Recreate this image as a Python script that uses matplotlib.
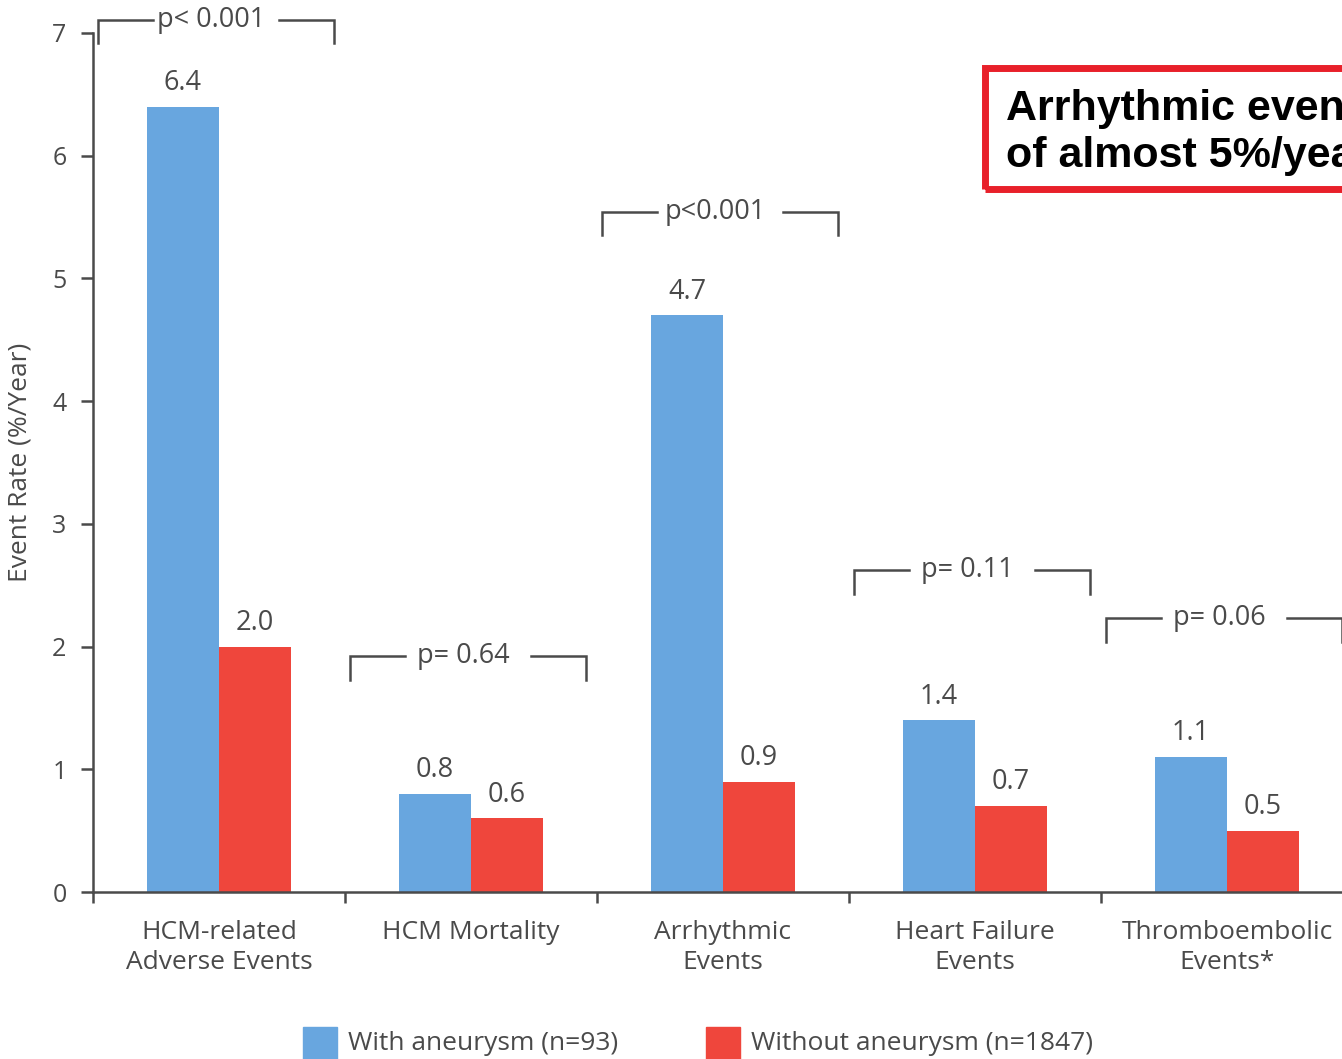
import numpy as np
import matplotlib.pyplot as plt
from matplotlib.patches import Rectangle

categories = ['HCM-related\nAdverse Events', 'HCM Mortality', 'Arrhythmic\nEvents',
              'Heart Failure\nEvents', 'Thromboembolic\nEvents*']
with_aneurysm = [6.4, 0.8, 4.7, 1.4, 1.1]
without_aneurysm = [2.0, 0.6, 0.9, 0.7, 0.5]
p_labels = ['p< 0.001', 'p= 0.64', 'p<0.001', 'p= 0.11', 'p= 0.06']
p_heights = [7.11, 1.92, 5.54, 2.62, 2.23]
legend_labels = ['With aneurysm (n=93)', 'Without aneurysm (n=1847)']
callout_lines = ['Arrhythmic events', 'of almost 5%/year']

blue = '#68a6df'
red = '#ef463c'
grey = '#4a4a4a'

plt.rcParams['font.family'] = ['Open Sans', 'DejaVu Sans']

fig = plt.figure(figsize=(13.42, 10.59), dpi=100)
W, H = 1342, 1059
ax = fig.add_axes([93 / W, (H - 892) / H, 1260 / W, 859 / H])

x = np.arange(len(categories)) + 0.5
bw = 0.286
ax.bar(x - bw / 2, with_aneurysm, bw, color=blue)
ax.bar(x + bw / 2, without_aneurysm, bw, color=red)

for i in range(len(categories)):
    ax.annotate(f'{with_aneurysm[i]:.1f}', (x[i] - bw / 2, with_aneurysm[i]),
                xytext=(0, 12), textcoords='offset points', ha='center',
                va='baseline', fontsize=19.5, color=grey)
    ax.annotate(f'{without_aneurysm[i]:.1f}', (x[i] + bw / 2, without_aneurysm[i]),
                xytext=(0, 12), textcoords='offset points', ha='center',
                va='baseline', fontsize=19.5, color=grey)

    # p-value bracket
    left = i + 0.02
    right = i + 0.955
    mid = i + 0.49
    top = p_heights[i]
    leg = 0.19
    gap = 0.25
    ax.plot([left, left, mid - gap], [top - leg, top, top], color=grey, lw=1.8,
            clip_on=False, solid_joinstyle='miter')
    ax.plot([mid + gap, right, right], [top, top, top - leg], color=grey, lw=1.8,
            clip_on=False, solid_joinstyle='miter')
    ax.text(mid - 0.02, top, p_labels[i], ha='center', va='center', fontsize=19.5,
            color=grey, clip_on=False)

ax.set_xlim(0, 5)
ax.set_ylim(0, 7)
ax.set_xticks(np.arange(0, 6))
ax.set_xticklabels([])
ax.set_xticks(x, minor=True)
ax.set_xticklabels(categories, minor=True, fontsize=19, color=grey, linespacing=1.3)
ax.tick_params(axis='x', which='minor', length=0, pad=20)
ax.tick_params(axis='x', which='major', length=8, width=1.8, color=grey, direction='out')
ax.set_yticks(range(0, 8))
ax.tick_params(axis='y', length=9, width=1.8, color=grey, labelsize=18,
               labelcolor=grey, pad=10)
ax.set_ylabel('Event Rate (%/Year)', fontsize=19, color=grey, labelpad=14)

for s in ['top', 'right']:
    ax.spines[s].set_visible(False)
for s in ['left', 'bottom']:
    ax.spines[s].set_color(grey)
    ax.spines[s].set_linewidth(1.8)

# legend
fig.add_artist(Rectangle((303 / W, 0), 34 / W, 32 / H, color=blue, transform=fig.transFigure))
fig.text(348 / W, (H - 1043) / H, legend_labels[0], fontsize=19, color=grey, va='center')
fig.add_artist(Rectangle((706 / W, 0), 34 / W, 32 / H, color=red, transform=fig.transFigure))
fig.text(751 / W, (H - 1043) / H, legend_labels[1], fontsize=19, color=grey, va='center')

# callout box
fig.add_artist(Rectangle((985 / W, (H - 189) / H), 500 / W, 121 / H, fill=False,
                         edgecolor='#e8202a', lw=5, joinstyle='miter',
                         transform=fig.transFigure))
fig.text(1006 / W, (H - 120) / H, callout_lines[0], fontsize=31, fontweight='bold',
         family='Liberation Sans', color='black', va='baseline')
fig.text(1006 / W, (H - 167) / H, callout_lines[1], fontsize=31, fontweight='bold',
         family='Liberation Sans', color='black', va='baseline')

fig.savefig('out.png', dpi=100)
